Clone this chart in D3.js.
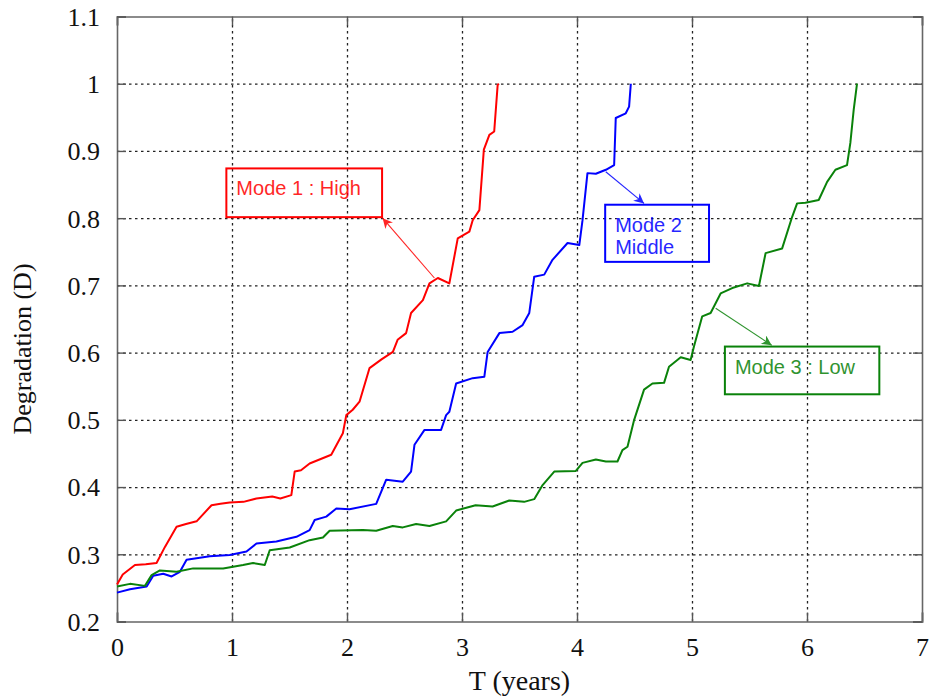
<!DOCTYPE html>
<html>
<head>
<meta charset="utf-8">
<script src="https://cdn.jsdelivr.net/npm/d3@7"></script>
<style>
  body { margin: 0; background: #fff; }
  svg { display: block; }
</style>
</head>
<body>
<svg id="chart" width="931" height="699"></svg>
<script>
// ---------------- data ----------------
const xTicks = [0, 1, 2, 3, 4, 5, 6, 7];
const yTicks = [0.2, 0.3, 0.4, 0.5, 0.6, 0.7, 0.8, 0.9, 1, 1.1];
const xTickLabels = ["0", "1", "2", "3", "4", "5", "6", "7"];
const yTickLabels = ["0.2", "0.3", "0.4", "0.5", "0.6", "0.7", "0.8", "0.9", "1", "1.1"];

const highT = [0, 0.05, 0.156, 0.25, 0.344, 0.417, 0.518, 0.6, 0.692, 0.822, 0.9, 0.98, 1.1, 1.213, 1.35, 1.42, 1.516, 1.545, 1.6, 1.675, 1.863, 1.964, 1.994, 2.05, 2.109, 2.196, 2.3, 2.399, 2.44, 2.514, 2.557, 2.66, 2.717, 2.79, 2.89, 2.963, 3.064, 3.093, 3.151, 3.19, 3.238, 3.28, 3.31, 3.32];
const highD = [0.255, 0.27, 0.284, 0.285, 0.287, 0.311, 0.341, 0.345, 0.349, 0.373, 0.375, 0.377, 0.378, 0.383, 0.386, 0.383, 0.388, 0.423, 0.425, 0.435, 0.448, 0.48, 0.507, 0.515, 0.527, 0.577, 0.59, 0.601, 0.619, 0.629, 0.659, 0.678, 0.703, 0.711, 0.703, 0.77, 0.78, 0.797, 0.812, 0.902, 0.924, 0.929, 0.998, 1.0];

const midT = [0, 0.113, 0.258, 0.315, 0.402, 0.475, 0.547, 0.605, 0.807, 0.98, 1.126, 1.213, 1.386, 1.56, 1.675, 1.719, 1.82, 1.907, 2.022, 2.254, 2.341, 2.485, 2.557, 2.587, 2.674, 2.818, 2.862, 2.89, 2.949, 3.093, 3.194, 3.223, 3.325, 3.44, 3.527, 3.585, 3.628, 3.715, 3.787, 3.918, 4.02, 4.048, 4.091, 4.164, 4.251, 4.323, 4.337, 4.424, 4.453, 4.468];
const midD = [0.243, 0.248, 0.252, 0.268, 0.271, 0.267, 0.274, 0.292, 0.297, 0.299, 0.304, 0.316, 0.319, 0.326, 0.336, 0.351, 0.356, 0.368, 0.367, 0.375, 0.411, 0.408, 0.423, 0.463, 0.485, 0.485, 0.507, 0.512, 0.554, 0.562, 0.564, 0.601, 0.629, 0.631, 0.641, 0.659, 0.713, 0.716, 0.738, 0.763, 0.76, 0.797, 0.867, 0.866, 0.872, 0.879, 0.949, 0.956, 0.966, 1.0];

const lowT = [0, 0.113, 0.243, 0.301, 0.373, 0.518, 0.662, 0.923, 1.096, 1.183, 1.285, 1.328, 1.502, 1.675, 1.791, 1.849, 2.138, 2.254, 2.398, 2.485, 2.601, 2.717, 2.862, 2.949, 3.118, 3.266, 3.411, 3.54, 3.628, 3.701, 3.802, 3.99, 4.048, 4.164, 4.251, 4.352, 4.395, 4.439, 4.497, 4.583, 4.656, 4.757, 4.8, 4.902, 4.988, 5.017, 5.089, 5.162, 5.249, 5.35, 5.48, 5.582, 5.64, 5.784, 5.871, 5.914, 5.986, 6.102, 6.175, 6.247, 6.348, 6.377, 6.406, 6.435];
const lowD = [0.252, 0.256, 0.253, 0.269, 0.276, 0.274, 0.279, 0.279, 0.284, 0.287, 0.284, 0.306, 0.31, 0.321, 0.325, 0.335, 0.336, 0.335, 0.342, 0.34, 0.345, 0.342, 0.349, 0.365, 0.373, 0.371, 0.38, 0.378, 0.382, 0.403, 0.423, 0.424, 0.436, 0.441, 0.438, 0.438, 0.455, 0.46, 0.5, 0.545, 0.554, 0.555, 0.579, 0.593, 0.589, 0.609, 0.654, 0.659, 0.688, 0.696, 0.703, 0.699, 0.748, 0.755, 0.802, 0.822, 0.823, 0.827, 0.854, 0.872, 0.879, 0.912, 0.961, 1.0];

const seriesNames = ["high", "mid", "low"];
const seriesColors = ["#ff0000", "#0000ff", "#0a820a"];

// annotation texts and anchors (data units)
const annoLines = [["Mode 1 : High"], ["Mode 2", "Middle"], ["Mode 3 : Low"]];
const annoBoxT0 = [0.951, 4.245, 5.286];
const annoBoxT1 = [2.305, 5.148, 6.629];
const annoBoxD0 = [0.8015, 0.735, 0.538];
const annoBoxD1 = [0.874, 0.82, 0.609];
const arrowFromT = [2.76, 4.25, 5.206];
const arrowFromD = [0.711, 0.869, 0.666];
const arrowToT = [2.31, 4.583, 5.693];
const arrowToD = [0.8, 0.822, 0.611];

const xLabel = "T (years)";
const yLabel = "Degradation (D)";

// ---------------- layout ----------------
const W = 931, H = 699;
const m = { left: 117, top: 16.5, right: 9, bottom: 77.5 };
const iw = W - m.left - m.right, ih = H - m.top - m.bottom;

const svg = d3.select("#chart");
const g = svg.append("g").attr("transform", `translate(${m.left},${m.top})`);

const x = d3.scaleLinear().domain([0, 7]).range([0, iw]);
const y = d3.scaleLinear().domain([0.2, 1.1]).range([ih, 0]);

const serif = "'Times New Roman', 'Liberation Serif', serif";
const sans = "Arial, 'Liberation Sans', sans-serif";

// grid
const gridX = g.append("g").attr("transform", `translate(0,${ih})`)
  .call(d3.axisBottom(x).tickValues(xTicks.slice(1, -1)).tickSize(-ih).tickFormat(""));
const gridY = g.append("g")
  .call(d3.axisLeft(y).tickValues(yTicks.slice(1, -1)).tickSize(-iw).tickFormat(""));
[gridX, gridY].forEach(gg => {
  gg.select(".domain").remove();
  gg.selectAll("line").attr("stroke", "#222").attr("stroke-width", 1.3).attr("stroke-dasharray", "2.5,3.5");
});

// axes with inward ticks
const axB = g.append("g").attr("transform", `translate(0,${ih})`)
  .call(d3.axisBottom(x).tickValues(xTicks).tickSize(-9).tickFormat((d, i) => xTickLabels[i]));
const axT = g.append("g")
  .call(d3.axisTop(x).tickValues(xTicks).tickSize(-9).tickFormat(""));
const axL = g.append("g")
  .call(d3.axisLeft(y).tickValues(yTicks).tickSize(-9).tickFormat((d, i) => yTickLabels[i]));
const axR = g.append("g").attr("transform", `translate(${iw},0)`)
  .call(d3.axisRight(y).tickValues(yTicks).tickSize(-9).tickFormat(""));
[axB, axT, axL, axR].forEach(a => {
  a.select(".domain").attr("stroke", "#666").attr("stroke-width", 1.6);
  a.selectAll(".tick line").attr("stroke", "#555").attr("stroke-width", 1.4);
});
axB.selectAll("text").attr("y", 34).attr("dy", 0)
  .attr("font-family", serif).attr("font-size", 26).attr("fill", "#111");
axL.selectAll("text").attr("x", -17).attr("dy", "0.34em")
  .attr("font-family", serif).attr("font-size", 26).attr("fill", "#111");

// series
const line = d3.line().x(d => x(d[0])).y(d => y(d[1]));
const seriesData = [d3.zip(highT, highD), d3.zip(midT, midD), d3.zip(lowT, lowD)];
seriesData.forEach((pts, i) => {
  g.append("path").datum(pts)
    .attr("fill", "none").attr("stroke", seriesColors[i]).attr("stroke-width", 2)
    .attr("stroke-linejoin", "round").attr("d", line);
});

// arrow markers
const defs = svg.append("defs");
seriesColors.forEach((c, i) => {
  defs.append("marker").attr("id", "arr" + i)
    .attr("viewBox", "0 0 10 10").attr("refX", 10).attr("refY", 5)
    .attr("markerWidth", 12).attr("markerHeight", 10).attr("markerUnits", "userSpaceOnUse")
    .attr("orient", "auto")
    .append("path").attr("d", "M0,0 L10,5 L0,10 L3,5 Z").attr("fill", c);
});

// annotations
annoLines.forEach((lines, i) => {
  const c = seriesColors[i];
  const bx0 = x(annoBoxT0[i]), bx1 = x(annoBoxT1[i]);
  const by0 = y(annoBoxD1[i]), by1 = y(annoBoxD0[i]);
  g.append("line")
    .attr("x1", x(arrowFromT[i])).attr("y1", y(arrowFromD[i]))
    .attr("x2", x(arrowToT[i])).attr("y2", y(arrowToD[i]))
    .attr("stroke", c).attr("stroke-width", 1.1).attr("opacity", 0.85)
    .attr("marker-end", `url(#arr${i})`);
  g.append("rect").attr("x", bx0).attr("y", by0)
    .attr("width", bx1 - bx0).attr("height", by1 - by0)
    .attr("fill", "none").attr("stroke", c).attr("stroke-width", 2);
  lines.forEach((t, k) => {
    g.append("text").attr("x", bx0 + 10).attr("y", by0 + 27 + k * 22.5)
      .attr("font-family", sans).attr("font-size", 20).attr("fill", c).attr("opacity", 0.85)
      .text(t);
  });
});

// axis labels
svg.append("text").attr("x", m.left + iw / 2).attr("y", 690)
  .attr("text-anchor", "middle").attr("font-family", serif).attr("font-size", 28).attr("fill", "#111")
  .text(xLabel);
svg.append("text").attr("transform", `translate(31,${m.top + ih / 2 + 30}) rotate(-90)`)
  .attr("text-anchor", "middle").attr("font-family", serif).attr("font-size", 26).attr("fill", "#111")
  .text(yLabel);
</script>
</body>
</html>
